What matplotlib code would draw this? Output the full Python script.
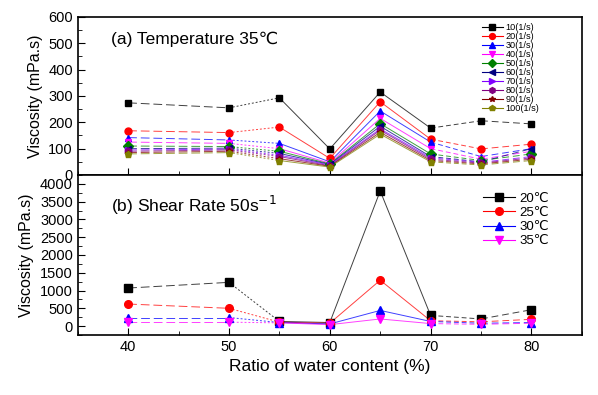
import matplotlib
matplotlib.use("Agg")
import matplotlib.pyplot as plt
from matplotlib.ticker import MultipleLocator

plt.rcParams['font.family'] = ['Liberation Sans', 'DejaVu Sans']

# =============================================================================
# DATA
# =============================================================================
water_ratio = [40, 50, 55, 60, 65, 70, 75, 80]

shear_labels = ['10(1/s)', '20(1/s)', '30(1/s)', '40(1/s)', '50(1/s)',
                '60(1/s)', '70(1/s)', '80(1/s)', '90(1/s)', '100(1/s)']
visc_10 = [274, 255, 293, 99, 315, 178, 206, 194]
visc_20 = [168, 161, 182, 63, 278, 136, 99, 117]
visc_30 = [142, 133, 120, 50, 243, 125, 70, 100]
visc_40 = [125, 120, 100, 45, 215, 100, 60, 90]
visc_50 = [110, 108, 90, 42, 195, 80, 55, 80]
visc_60 = [100, 102, 82, 40, 185, 70, 50, 100]
visc_70 = [95, 98, 75, 38, 175, 65, 48, 70]
visc_80 = [90, 95, 70, 35, 170, 60, 45, 65]
visc_90 = [85, 90, 62, 33, 162, 55, 42, 60]
visc_100 = [80, 85, 55, 30, 155, 50, 38, 55]
shear_series = [visc_10, visc_20, visc_30, visc_40, visc_50,
                visc_60, visc_70, visc_80, visc_90, visc_100]

temp_labels = ['20\u2103', '25\u2103', '30\u2103', '35\u2103']
visc_20c = [1070, 1230, 130, 100, 3800, 300, 200, 460]
visc_25c = [620, 500, 110, 80, 1290, 150, 120, 190]
visc_30c = [240, 240, 100, 60, 440, 130, 80, 100]
visc_35c = [110, 110, 90, 40, 200, 70, 50, 80]
temp_series = [visc_20c, visc_25c, visc_30c, visc_35c]

# =============================================================================
# STYLE
# =============================================================================
shear_colors = ['black', 'red', 'blue', 'magenta', 'green',
                'navy', '#8000ff', '#800080', '#800000', '#808000']
shear_markers = ['s', 'o', '^', 'v', 'D', '<', '>', 'h', '*', 'p']
temp_colors = ['black', 'red', 'blue', 'magenta']
temp_markers = ['s', 'o', '^', 'v']

# Origin-like mixed segment styles
seg_styles = [(0, (9, 4)), (0, (2, 2)), '-', '-', '-', (0, (5, 3)), (0, (7, 4))]


def draw_series(ax, x, y, color, marker, label, ms):
    for i in range(len(x) - 1):
        ax.plot(x[i:i + 2], y[i:i + 2], color=color, linestyle=seg_styles[i],
                linewidth=0.7, alpha=0.75)
    ax.plot(x, y, linestyle='None', marker=marker, color=color,
            markersize=ms, zorder=5)
    # legend handle
    ax.plot([], [], color=color, marker=marker, markersize=ms,
            linewidth=0.8, label=label)


fig = plt.figure(figsize=(5.98, 3.95), dpi=100)
ax1 = fig.add_axes([0.130, 0.557, 0.843, 0.400])
ax2 = fig.add_axes([0.130, 0.152, 0.843, 0.405])

for y, c, m, lab in zip(shear_series, shear_colors, shear_markers, shear_labels):
    draw_series(ax1, water_ratio, y, c, m, lab, 5)

for y, c, m, lab in zip(temp_series, temp_colors, temp_markers, temp_labels):
    draw_series(ax2, water_ratio, y, c, m, lab, 5.5)

for ax in (ax1, ax2):
    ax.set_xlim(35, 85)
    ax.xaxis.set_major_locator(MultipleLocator(10))
    ax.xaxis.set_minor_locator(MultipleLocator(5))
    ax.tick_params(which='both', direction='in', labelsize=10.5)
    ax.tick_params(which='major', length=5)
    ax.tick_params(which='minor', length=3)
    ax.set_ylabel("Viscosity (mPa.s)", fontsize=11.5)
    for s in ax.spines.values():
        s.set_linewidth(1.2)

ax1.set_ylim(0, 600)
ax1.yaxis.set_major_locator(MultipleLocator(100))
ax1.yaxis.set_minor_locator(MultipleLocator(50))
ax1.tick_params(axis='x', labelbottom=False)
ax1.text(0.065, 0.83, "(a) Temperature 35\u2103", transform=ax1.transAxes,
         fontsize=12.5)
ax1.legend(loc='upper right', fontsize=6.6, frameon=False, handlelength=2.3,
           labelspacing=0.0, borderaxespad=0.1, handletextpad=0.3,
           markerscale=0.85, bbox_to_anchor=(0.925, 0.99))

ax2.set_ylim(-250, 4250)
ax2.yaxis.set_major_locator(MultipleLocator(500))
ax2.yaxis.set_minor_locator(MultipleLocator(250))
ax2.set_yticks(range(0, 4001, 500))
ax2.text(0.065, 0.77, "(b) Shear Rate 50s$^{-1}$", transform=ax2.transAxes,
         fontsize=12.5)
ax2.legend(loc='upper right', fontsize=9.5, frameon=False, handlelength=2.4,
           labelspacing=0.15, borderaxespad=0.2, handletextpad=0.3,
           bbox_to_anchor=(0.95, 0.94))
ax2.set_xlabel("Ratio of water content (%)", fontsize=12.5)

fig.savefig("out.png", dpi=100)
